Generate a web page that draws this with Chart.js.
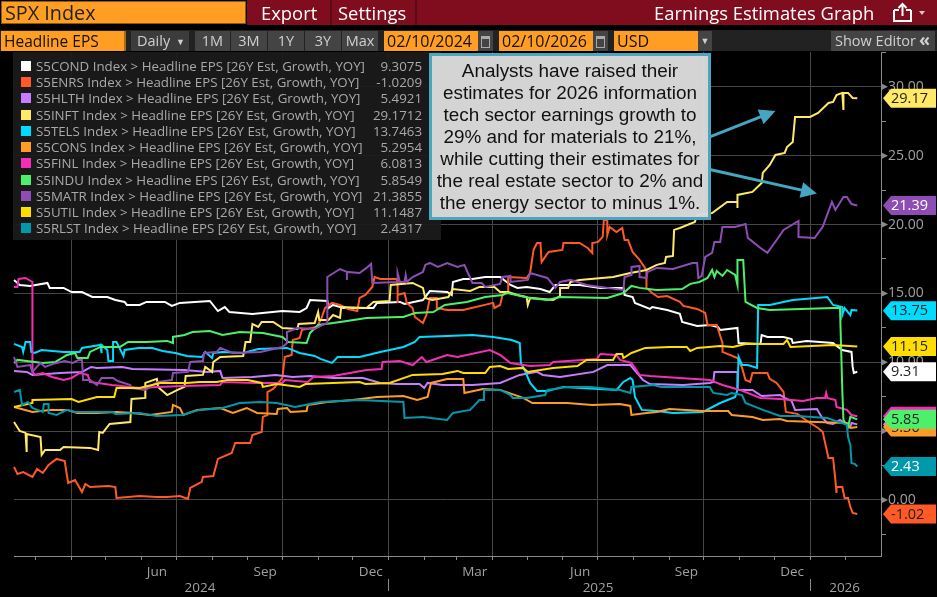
<!DOCTYPE html>
<html>
<head>
<meta charset="utf-8">
<script src="https://cdn.jsdelivr.net/npm/chart.js@4"></script>
<style>
html,body{margin:0;padding:0;background:#000;width:937px;height:597px;overflow:hidden}
body{position:relative;font-family:"Open Sans",sans-serif}
canvas{position:absolute;left:0;top:0}
.a{position:absolute;white-space:nowrap;box-sizing:border-box}
.btn{background:#444;color:#d0d0d0;font-size:14.5px;line-height:20px;text-align:center;top:31px;height:20px}
.org{background:#ff9e22;color:#111;font-size:16px;line-height:20px;top:31px;height:20px;padding-left:3px}
.hd{color:#fff;font-size:18.4px;line-height:25px;top:0}
.cal{top:31px;height:20px;width:15px;background:#444}
.cal:after{content:"";position:absolute;left:3px;top:5px;width:7px;height:8px;border:1px solid #aaa;border-top:3px solid #aaa}
#legend{left:13px;top:52px;width:428px;height:188px;background:rgba(27,27,27,.93)}
.row{position:absolute;left:0;width:428px;height:16px;color:#a9a9a9;font-size:13.3px;line-height:16px}
.sw{position:absolute;left:8px;top:3px;width:10px;height:10px}
.nm{position:absolute;left:23px;top:0;white-space:nowrap}
.vl{position:absolute;right:19px;top:0}
#note{left:429px;top:53px;width:282px;height:167px;background:rgba(219,219,219,.97);border:3px solid #4aa5be;color:#111;font-family:"Liberation Sans",Arial,sans-serif;font-size:18.9px;line-height:22px;text-align:center;padding-top:4px}
</style>
</head>
<body>
<canvas id="c" width="937" height="597"></canvas>
<div class="a" style="left:0;top:30px;width:937px;height:21px;background:#222"></div>
<div class="a" style="left:247px;top:0;width:690px;height:25px;background:#7f0d1e"></div>
<div class="a" style="left:330px;top:0;width:2px;height:25px;background:#5a0a14"></div>
<div class="a" style="left:415px;top:0;width:2px;height:25px;background:#5a0a14"></div>
<div class="a" style="left:1px;top:1px;width:245px;height:23px;background:#ff9e22;border:1px solid #8a5a10;color:#222;font-size:19.8px;line-height:22px;padding-left:3px">SPX Index</div>
<div class="a hd" style="left:261px">Export</div>
<div class="a hd" style="left:338px">Settings</div>
<div class="a hd" style="left:654px">Earnings Estimates Graph</div>
<svg class="a" style="left:892px;top:2px" width="36" height="20"><path d="M2 8h5M14 8h5M2 8v11h17v-11" fill="none" stroke="#fff" stroke-width="2"/><path d="M10.5 14V3M6.5 6l4-4 4 4" fill="none" stroke="#fff" stroke-width="2"/><path d="M27 9h6l-3 4z" fill="#ccc"/></svg>
<div class="a org" style="left:1px;width:125px;border-right:2px solid #a86a12;font-size:15.5px">Headline EPS</div>
<div class="a btn" style="left:131px;width:58px;text-align:left;padding-left:6px;background:#3c3c3c">Daily <span style="font-size:9px;position:relative;top:-1px;left:2px">▼</span></div>
<div class="a btn" style="left:195px;width:35px">1M</div>
<div class="a btn" style="left:231px;width:36px">3M</div>
<div class="a btn" style="left:268px;width:36px">1Y</div>
<div class="a btn" style="left:305px;width:36px">3Y</div>
<div class="a btn" style="left:342px;width:36px">Max</div>
<div class="a org" style="left:384px;width:94px">02/10/2024</div><div class="a cal" style="left:478px"></div>
<div class="a org" style="left:499px;width:94px">02/10/2026</div><div class="a cal" style="left:593px"></div>
<div class="a org" style="left:614px;width:84px">USD</div>
<div class="a btn" style="left:698px;width:14px;font-size:9px">▼</div>
<div class="a btn" style="left:831px;width:104px;text-align:left;padding-left:4px">Show Editor <span style="position:absolute;left:88px;top:-2px;font-size:18px;font-weight:700">«</span></div>
<div class="a" id="legend"></div>
<div class="a" id="note">Analysts have raised their<br>estimates for 2026 information<br>tech sector earnings growth to<br>29% and for materials to 21%,<br>while cutting their estimates for<br>the real estate sector to 2% and<br>the energy sector to minus 1%.</div>
<script>
const tickers=["S5COND","S5ENRS","S5HLTH","S5INFT","S5TELS","S5CONS","S5FINL","S5INDU","S5MATR","S5UTIL","S5RLST"];
const lastValues=[9.3075,-1.0209,5.4921,29.1712,13.7463,5.2954,6.0813,5.8549,21.3855,11.1487,2.4317];
const colors=["#ffffff","#ff5a26","#c77dff","#ffe967","#00dcff","#ff9c28","#f52fb5","#4df06a","#8e4db5","#ffdd00","#0098ab"];
const tagText=["#222","#222","#222","#222","#222","#222","#222","#222","#fff","#222","#fff"];

const condD=[0,5,14,29,31,43,50,59,68,81,88,96,98,109,115,131,137,144,170,177,183,187,207,233,248,254,257,272,273,277,286,312,315,335,339,355,361,376,380,381,390,398,409,422,431,437,445,457,465,470,491,509,529,530,537,539,552,554,567,578,580,593,604,611,613,628,629,648,649,654,668,675,676,688,711,713,719,727,728,729,732];
const condV=[15.98,15.61,15.54,15.76,15.40,15.40,15.10,15.10,14.74,14.74,14.52,14.38,14.16,14.16,14.38,14.38,14.09,14.31,14.45,13.72,14.01,13.65,13.51,13.72,13.65,13.94,14.52,14.45,13.94,14.16,13.94,13.94,14.31,14.38,14.23,14.52,15.18,15.10,14.89,15.83,16.05,16.05,16.19,16.19,15.61,15.40,15.47,15.32,15.10,15.61,15.61,15.40,15.40,14.89,14.74,14.31,13.87,14.01,13.80,13.51,12.93,12.64,12.71,12.56,12.35,12.49,11.40,11.33,11.98,11.84,11.84,11.69,11.40,11.55,11.40,11.26,10.89,10.75,9.66,9.22,9.31];
const enrsD=[0,3,8,16,20,25,30,37,44,47,53,59,62,66,82,88,89,109,124,133,144,151,153,163,164,173,177,189,192,205,207,215,216,220,220,225,233,235,241,242,248,250,263,267,270,276,283,290,298,300,305,311,313,318,332,333,333,333,339,341,346,348,355,358,361,367,367,376,390,416,417,422,424,429,429,445,448,451,454,457,458,464,476,477,491,498,502,502,507,511,512,515,515,517,523,528,530,533,537,543,549,549,554,559,567,578,581,593,600,602,610,615,615,628,632,635,639,641,654,656,662,668,670,680,691,698,702,707,711,713,714,714,719,721,724,726,728,732];
const enrsV=[2.40,1.89,2.03,1.67,2.25,1.96,2.54,2.98,2.83,1.23,1.45,0.58,1.16,0.94,1.02,0.94,0.15,0.29,0.22,0.22,0.29,0.07,0.87,1.31,1.67,1.74,2.98,3.41,4.14,4.14,4.72,4.94,6.03,6.17,7.84,8.06,8.86,10.38,10.53,11.62,11.76,12.35,12.56,13.22,13.94,14.31,14.16,13.87,13.72,14.67,14.89,15.47,16.19,16.05,16.05,15.76,14.31,14.89,15.03,14.31,13.94,13.29,12.85,13.43,14.67,14.67,13.94,13.80,13.80,14.31,13.94,14.16,14.89,15.10,16.19,16.12,16.48,18.16,18.66,18.66,17.28,18.01,18.16,18.66,18.66,18.30,17.94,18.66,18.74,19.10,20.33,20.33,19.24,19.83,19.46,19.75,18.88,18.88,18.01,17.43,16.70,15.40,15.03,14.74,14.81,14.38,14.09,13.87,13.58,12.71,12.71,11.40,10.75,10.31,9.59,8.71,8.57,9.22,9.22,8.79,8.50,7.84,6.39,6.25,5.59,5.23,4.94,3.05,3.05,1.45,0.51,0.94,0.94,0.15,0.15,-0.51,-0.94,-1.02];
const hlthD=[0,11,16,40,59,67,72,94,103,148,168,179,181,207,227,242,257,277,303,318,332,352,356,359,372,398,422,439,454,459,474,503,515,535,546,552,581,604,607,608,628,628,641,649,665,669,675,678,697,701,706,711,717,726,727,732];
const hlthV=[9.37,9.30,9.08,9.22,9.30,9.66,9.59,9.66,9.51,9.44,9.30,9.37,8.86,8.93,9.08,8.93,9.00,8.86,8.86,8.50,8.42,8.42,8.13,8.50,8.35,8.35,8.50,9.08,9.30,9.08,8.93,9.30,9.80,9.80,8.71,8.42,8.35,8.50,8.57,9.30,9.30,7.99,7.99,7.55,7.62,7.41,7.19,6.54,6.61,6.03,5.59,5.52,5.81,5.30,5.59,5.49];
const inftD=[0,5,10,11,11,23,24,27,40,43,66,73,74,77,83,101,102,114,114,124,125,133,142,148,149,164,166,172,173,179,199,201,205,207,212,215,225,233,246,247,261,264,265,273,277,283,284,306,312,326,327,346,355,357,363,377,381,396,404,417,422,429,437,445,446,448,468,474,474,481,483,491,520,535,549,558,565,566,572,573,578,591,593,606,619,628,628,628,641,649,650,656,661,669,671,676,678,691,698,707,711,714,719,720,720,724,728,732];
const inftV=[5.66,5.01,4.87,3.49,4.79,4.57,3.27,3.63,3.63,3.85,3.78,3.63,4.94,4.87,5.52,5.66,7.33,7.41,8.50,8.79,8.21,7.62,7.99,8.21,9.00,9.08,9.66,9.30,10.02,10.38,10.46,11.47,11.47,12.78,12.56,12.93,12.93,12.49,12.42,12.78,12.85,13.65,13.07,13.07,13.43,13.22,14.01,13.94,14.38,14.45,15.61,15.76,15.40,14.67,14.52,14.74,15.32,15.18,15.47,15.47,15.10,15.10,14.89,14.74,14.16,14.67,14.52,14.81,15.40,15.40,15.83,15.98,16.19,16.48,16.70,17.07,17.21,17.65,17.72,19.61,19.75,20.19,20.70,20.84,21.64,21.64,21.21,22.15,22.37,23.02,23.75,24.33,25.05,25.20,25.63,26.00,27.81,27.81,28.10,28.83,28.90,29.41,29.56,28.32,29.56,29.56,29.19,29.17];
const telsD=[0,7,8,10,14,15,18,24,43,57,59,75,76,76,81,82,86,86,89,95,96,108,120,129,140,150,163,166,172,173,181,199,212,237,248,261,266,276,281,300,318,338,348,352,376,398,416,432,439,440,444,448,454,463,477,523,529,535,537,539,545,558,572,598,613,626,628,629,632,637,645,646,656,676,706,711,719,719,721,726,727,732];
const telsV=[11.33,11.11,10.75,11.47,11.47,10.75,10.67,10.89,10.75,10.75,11.04,11.26,10.67,11.26,10.89,10.09,10.09,11.47,11.47,10.46,10.89,11.04,11.04,10.82,10.67,10.46,10.38,10.75,10.31,10.67,10.75,10.67,10.96,11.04,10.67,10.46,10.24,9.95,10.38,10.38,10.75,11.11,11.47,11.84,11.91,11.98,11.84,11.62,11.40,9.95,9.30,8.50,7.92,7.92,8.21,7.99,8.57,8.86,8.71,7.48,6.54,6.46,6.32,6.39,7.04,7.48,7.99,10.38,9.80,9.80,9.59,14.16,14.16,14.52,14.74,14.16,14.01,13.43,13.94,13.43,13.80,13.75];
const consD=[0,16,31,46,55,72,89,103,118,137,138,144,147,159,179,190,202,211,228,229,237,240,254,255,272,294,315,338,350,359,362,376,390,391,407,422,442,450,480,502,526,535,536,549,558,569,598,620,623,641,650,665,671,723,726,732];
const consV=[6.75,6.39,6.54,6.54,6.32,6.32,6.39,6.32,6.17,6.39,6.90,6.68,6.17,6.54,6.68,6.32,6.68,6.32,6.25,6.61,6.68,6.39,6.46,6.90,7.12,7.26,7.48,7.55,7.26,7.48,8.50,8.79,8.79,7.77,8.06,7.99,7.41,7.04,7.04,6.90,6.97,6.83,6.17,6.32,6.39,6.61,6.46,6.46,6.17,6.03,5.81,5.88,5.74,5.59,5.23,5.30];
const finlD=[0,3,4,10,16,16,18,25,33,43,50,57,64,66,85,109,124,147,179,181,211,233,235,255,260,277,306,319,320,335,346,354,358,376,385,413,422,431,448,465,468,506,509,523,526,536,543,552,578,604,615,630,648,665,685,697,704,705,706,713,714,723,727,732];
const finlV=[15.47,15.47,16.05,16.12,15.83,9.30,9.08,9.22,8.93,8.71,8.86,9.22,9.08,8.57,8.35,8.13,8.21,8.28,8.35,8.57,8.50,8.50,8.71,8.57,8.93,9.00,9.44,9.51,10.02,10.09,9.80,10.38,10.02,10.53,10.38,10.89,10.53,9.95,9.73,9.80,10.02,10.24,10.60,10.53,10.17,9.95,9.08,9.00,8.86,8.71,8.35,7.99,7.41,7.33,7.19,7.41,7.41,7.77,7.41,7.26,6.75,6.54,6.17,6.08];
const induD=[0,3,25,36,46,53,55,64,66,75,92,99,115,133,138,138,148,155,170,181,196,216,233,238,254,257,264,277,289,306,335,338,348,364,374,393,409,424,428,448,463,474,515,529,536,543,558,580,587,595,602,606,608,610,615,619,626,628,628,633,635,645,656,711,717,719,720,724,726,732];
const induV=[9.95,10.17,9.95,10.02,10.53,10.67,10.31,10.31,10.75,11.11,11.11,11.47,11.47,11.55,11.40,11.84,11.98,12.20,12.27,11.98,12.20,12.13,11.84,11.47,11.40,12.13,12.71,12.85,13.00,13.22,13.29,13.29,13.58,13.65,14.16,14.38,14.74,14.89,15.03,14.67,14.52,14.74,14.67,15.03,15.54,15.40,15.25,15.32,15.69,15.83,16.12,16.70,16.19,16.63,16.27,16.70,16.34,15.61,17.43,17.43,14.38,13.94,13.80,13.94,13.94,7.99,5.81,5.30,6.03,5.85];
const matrD=[0,3,14,16,23,27,34,44,51,56,59,60,66,72,76,86,90,101,102,114,125,137,138,151,153,164,165,176,179,190,214,233,237,237,246,261,268,272,272,283,289,289,289,300,306,310,311,333,333,335,339,340,341,346,355,357,361,368,376,385,391,394,398,406,409,422,424,431,431,446,448,454,463,470,474,483,497,509,529,530,536,536,543,543,549,550,558,572,589,593,594,597,600,606,608,613,615,626,635,637,648,654,662,668,681,681,695,702,710,713,720,723,727,732];
const matrV=[10.38,9.66,9.80,9.30,9.95,9.66,9.88,10.09,9.95,10.17,10.17,8.71,8.71,8.35,8.86,8.86,8.64,8.35,8.13,7.99,8.57,8.71,9.22,9.30,10.02,10.09,10.67,10.75,11.04,10.67,10.75,11.11,11.40,12.20,12.49,12.42,12.71,12.85,16.19,16.77,16.56,15.98,16.56,16.48,16.85,17.14,15.76,15.83,16.48,15.83,15.83,16.34,15.83,16.19,16.56,17.07,17.21,16.92,17.21,16.92,17.07,16.48,15.76,15.76,15.47,15.69,16.19,16.27,15.83,15.98,16.48,16.34,16.12,15.40,15.83,15.98,15.61,15.47,15.25,16.19,16.34,16.92,16.99,16.19,16.12,16.56,16.85,16.77,17.21,17.21,16.12,16.27,17.65,17.94,18.74,18.74,19.83,19.83,20.04,19.03,18.30,17.94,18.88,19.61,20.26,19.10,19.03,19.83,21.64,21.06,22.00,22.00,21.49,21.39];
const utilD=[0,16,16,50,56,72,87,89,109,127,150,161,176,185,203,215,216,228,248,253,300,305,326,346,372,385,390,409,413,422,429,442,446,468,489,497,520,523,528,529,536,548,569,584,587,593,613,624,635,668,671,674,711,732];
const utilV=[6.75,7.04,7.26,7.33,7.12,7.48,7.48,8.13,8.13,8.50,8.50,8.57,8.57,8.71,8.71,8.50,8.21,8.42,8.21,8.42,8.57,8.42,8.50,9.08,9.15,9.37,9.22,9.22,9.66,9.73,9.51,9.59,9.30,9.59,9.73,10.17,10.17,10.60,10.60,10.31,10.67,11.04,11.11,11.11,10.82,11.04,11.18,11.11,11.33,11.33,11.62,11.11,11.26,11.15];
const rlstD=[0,5,7,12,16,25,26,30,30,37,46,53,86,88,109,124,146,161,181,196,214,228,244,266,300,338,339,355,376,381,396,404,408,408,422,431,433,445,461,463,480,500,526,535,536,555,562,604,607,619,623,632,635,650,665,680,706,723,724,726,727,730,732];
const rlstV=[7.84,7.99,6.90,7.12,6.68,6.39,6.97,6.97,6.32,6.17,6.54,6.39,6.39,6.25,6.32,6.10,6.17,6.54,6.68,7.04,7.12,7.04,6.75,7.12,7.26,7.12,5.95,6.03,5.81,6.32,6.54,7.26,7.26,7.99,7.99,7.62,7.41,7.41,7.62,7.99,8.21,8.21,7.99,7.77,8.21,8.35,8.21,8.21,7.77,7.62,7.77,7.62,7.04,6.54,6.10,6.10,5.95,5.45,4.57,3.99,2.69,2.61,2.43];

const seriesDays=[condD,enrsD,hlthD,inftD,telsD,consD,finlD,induD,matrD,utilD,rlstD];
const seriesVals=[condV,enrsV,hlthV,inftV,telsV,consV,finlV,induV,matrV,utilV,rlstV];

const monthTicks=[18.7,49.7,79.8,110.9,140.9,172,203,233.1,264.1,294.2,325.3,356.3,384.4,415.4,445.5,476.5,506.6,537.7,568.7,598.8,629.8,659.9,691,722];
const gridDays=[49.7,140.9,233.1,325.3,415.4,506.6,598.8,691];
const monthLabelDays=[124,218,309.7,400,491.5,583.7,675.4];
const monthLabels=["Jun","Sep","Dec","Mar","Jun","Sep","Dec"];
const yearDays=[161.5,507,721];
const yearLabels=["2024","2025","2026"];
const yearSeps=[325.3,691];
const yTicks=[-2.5,0,2.5,5,7.5,10,12.5,15,17.5,20,22.5,25,27.5,30,32.5];
const arrows=[[604,26.36,661,28.25],[604,24.0,697,22.25]];

// legend
const lg=document.getElementById('legend');
const rowTop=[6,22,38,55,71,87,103,120,136,152,168];
tickers.forEach((t,i)=>{
  const r=document.createElement('div');r.className='row';r.style.top=rowTop[i]+'px';
  r.innerHTML='<span class="sw" style="background:'+colors[i]+'"></span><span class="nm">'+t+' Index &gt; Headline EPS [26Y Est, Growth, YOY]</span><span class="vl">'+lastValues[i].toFixed(4)+'</span>';
  lg.appendChild(r);
});

const tagsPlugin={id:'tags',afterDraw(ch){
  const g=ch.ctx,y=ch.scales.y,a=ch.chartArea;
  g.save();
  // triangles on labelled ticks
  g.fillStyle='#8a8a8a';
  yTicks.filter(v=>v%5===0).forEach(v=>{const p=y.getPixelForValue(v);g.beginPath();g.moveTo(a.right,p-3.5);g.lineTo(a.right+7,p);g.lineTo(a.right,p+3.5);g.fill();});
  // arrows
  const x=ch.scales.x;
  g.strokeStyle=g.fillStyle='#46a6c2';g.lineWidth=3;
  arrows.forEach(r=>{
    const x0=x.getPixelForValue(r[0]),y0=y.getPixelForValue(r[1]),x1=x.getPixelForValue(r[2]),y1=y.getPixelForValue(r[3]);
    const an=Math.atan2(y1-y0,x1-x0);
    g.beginPath();g.moveTo(x0,y0);g.lineTo(x1-10*Math.cos(an),y1-10*Math.sin(an));g.stroke();
    g.beginPath();g.moveTo(x1,y1);
    g.lineTo(x1-16*Math.cos(an)+8*Math.sin(an),y1-16*Math.sin(an)-8*Math.cos(an));
    g.lineTo(x1-16*Math.cos(an)-8*Math.sin(an),y1-16*Math.sin(an)+8*Math.cos(an));
    g.closePath();g.fill();
  });
  // value tags
  g.font='14.5px "Open Sans"';g.textBaseline='middle';g.textAlign='left';
  lastValues.forEach((v,i)=>{
    const p=y.getPixelForValue(v),l=a.right+2;
    g.fillStyle=colors[i];
    g.beginPath();g.moveTo(l,p);g.lineTo(l+8,p-9.5);g.lineTo(936,p-9.5);g.lineTo(936,p+9.5);g.lineTo(l+8,p+9.5);g.closePath();g.fill();
    g.fillStyle=tagText[i];
    g.fillText(v.toFixed(2),l+8,p+0.5);
  });
  g.restore();
}};

new Chart(document.getElementById('c'),{
  type:'line',
  data:{datasets:tickers.map((t,i)=>({
    label:t,
    data:seriesDays[i].map((d,k)=>({x:d,y:seriesVals[i][k]})),
    borderColor:colors[i],borderWidth:2,pointRadius:0,tension:0,fill:false,order:tickers.length-i,borderJoinStyle:'miter',clip:false
  }))},
  plugins:[tagsPlugin],
  options:{
    responsive:false,animation:false,parsing:false,normalized:false,
    layout:{autoPadding:false,padding:{left:14,top:52,right:0,bottom:0}},
    plugins:{legend:{display:false},tooltip:{enabled:false}},
    scales:{
      x:{type:'linear',position:'bottom',min:0,max:752.6,
        afterBuildTicks(s){s.ticks=monthTicks.concat(monthLabelDays).map(v=>({value:v}));},
        afterFit(s){s.height=23;},
        ticks:{autoSkip:false,maxRotation:0,minRotation:0,padding:4,color:'#a0a0a0',font:{family:'"Open Sans"',size:13.5},
          callback(v){const i=monthLabelDays.indexOf(v);return i>=0?monthLabels[i]:'';}},
        grid:{tickLength:4,
          color(c){return c.tick&&gridDays.includes(c.tick.value)?'#464646':'rgba(0,0,0,0)';},
          tickColor(c){return c.tick&&monthTicks.includes(c.tick.value)?'#8a8a8a':'rgba(0,0,0,0)';}},
        border:{color:'#8a8a8a',width:1}
      },
      xYear:{type:'linear',position:'bottom',min:0,max:752.6,
        afterBuildTicks(s){s.ticks=yearDays.concat(yearSeps).map(v=>({value:v}));},
        afterFit(s){s.height=18;},
        ticks:{autoSkip:false,maxRotation:0,minRotation:0,padding:-11,color:'#a0a0a0',font:{family:'"Open Sans"',size:13.5},
          callback(v){const i=yearDays.indexOf(v);return i>=0?yearLabels[i]:'';}},
        grid:{drawOnChartArea:false,tickLength:12,
          tickColor(c){return c.tick&&yearSeps.includes(c.tick.value)?'#8a8a8a':'rgba(0,0,0,0)';}},
        border:{display:false}
      },
      y:{type:'linear',position:'right',min:-4.07,max:32.53,
        afterBuildTicks(s){s.ticks=yTicks.map(v=>({value:v}));},
        afterFit(s){s.width=56;},
        ticks:{padding:2,color:'#a0a0a0',font:{family:'"Open Sans"',size:14},
          callback(v){return v%5===0?v.toFixed(2):'';}},
        grid:{tickLength:5,
          color(c){return c.tick&&c.tick.value%5===0?'#464646':'rgba(0,0,0,0)';},
          tickColor(c){return c.tick&&c.tick.value%5===0?'rgba(0,0,0,0)':'#8a8a8a';}},
        border:{color:'#8a8a8a',width:1}
      }
    }
  }
});
</script>
</body>
</html>
